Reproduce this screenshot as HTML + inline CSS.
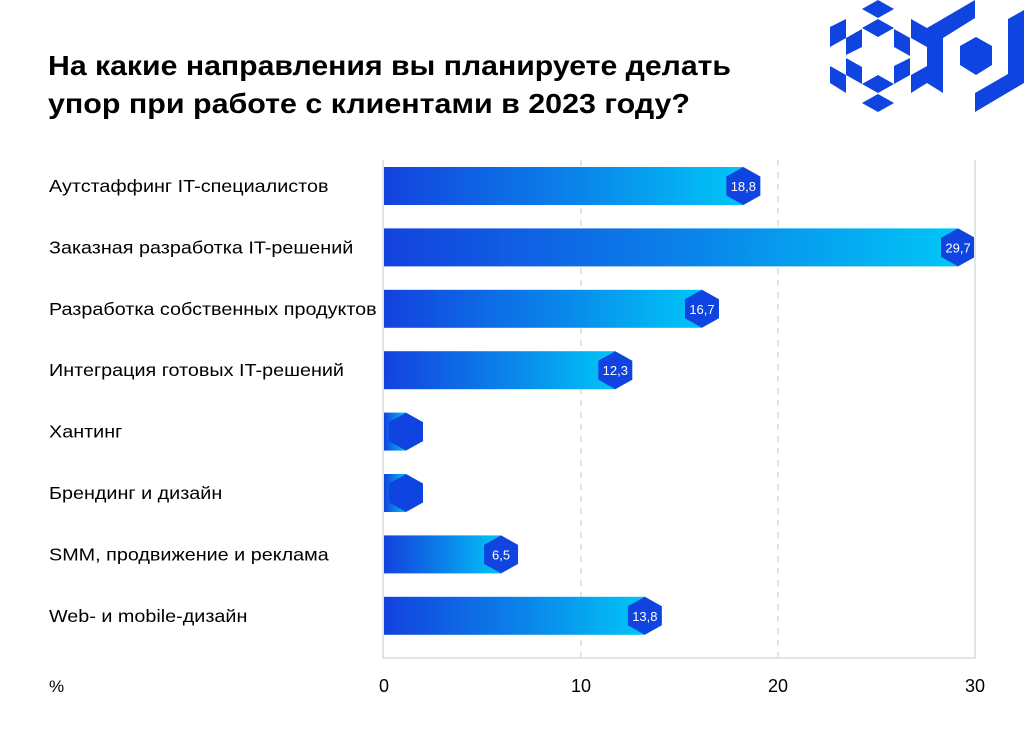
<!DOCTYPE html>
<html><head><meta charset="utf-8"><style>
html,body{margin:0;padding:0;background:#fff;}
svg{display:block;font-family:"Liberation Sans","Noto Sans CJK SC",sans-serif;}
</style></head><body>
<svg id="c" width="1024" height="736" viewBox="0 0 1024 736" xmlns="http://www.w3.org/2000/svg">
<defs>
<linearGradient id="g" x1="0" x2="1" y1="0" y2="0"><stop offset="0" stop-color="#1342de"/><stop offset="0.55" stop-color="#0a86ea"/><stop offset="1" stop-color="#00c6f7"/></linearGradient>
</defs>
<g font-weight="bold" font-size="28" fill="#000">
<text x="48" y="75" textLength="683" lengthAdjust="spacingAndGlyphs">На какие направления вы планируете делать</text>
<text x="48" y="113" textLength="642" lengthAdjust="spacingAndGlyphs">упор при работе с клиентами в 2023 году?</text>
</g>
<g fill="#0f44e0">
<polygon points="878,0 894,9 878,18 862,9"/>
<polygon points="878,19 894,28 878,37 862,28"/>
<polygon points="878,75 894,84 878,93 862,84"/>
<polygon points="878,94 894,103 878,112 862,103"/>
<polygon points="830,27 846,19 846,38 830,47"/>
<polygon points="830,66 846,75 846,93 830,83"/>
<polygon points="846,38 862,29 862,47 846,55"/>
<polygon points="846,58 862,67 862,84 846,75"/>
<polygon points="894,29 910,38 910,56 894,47"/>
<polygon points="894,66 910,58 910,75 894,84"/>
<polygon points="911,19 927,28 975,0 975,18 943,38 943,93 927,83 911,93 911,75 927,66 927,47 911,38"/>
<polygon points="976,37 992,46 992,65 976,75 960,65 960,46"/>
<polygon points="1008,19 1024,10 1024,83 975,112 975,93 1008,74"/>
</g>
<g id="grid"></g>
<g id="bars"></g>
<g id="axis"></g>
</svg>
<script>
const categories=["Аутстаффинг IT-специалистов","Заказная разработка IT-решений","Разработка собственных продуктов","Интеграция готовых IT-решений","Хантинг","Брендинг и дизайн","SMM, продвижение и реклама","Web- и mobile-дизайн"];
const values=[18.8,29.7,16.7,12.3,0,0,6.5,13.8];
const valueLabels=["18,8","29,7","16,7","12,3","","","6,5","13,8"];
const ticks=[0,10,20,30];
const NS="http://www.w3.org/2000/svg";
const x0=384,x1=975,xmax=30;
function xs(v){return x0+v/xmax*(x1-x0);}
function ys(i){return 186+i*61.4;}
function mk(t,a,p){const e=document.createElementNS(NS,t);for(const k in a)e.setAttribute(k,a[k]);p.appendChild(e);return e;}
const grid=document.getElementById('grid'),bars=document.getElementById('bars'),axis=document.getElementById('axis');
ticks.forEach(t=>{
  const x=xs(t);
  if(t>0&&t<xmax){const l=mk('line',{x1:x,x2:x,y1:160,y2:658,stroke:'#e4e4e4','stroke-width':2,'stroke-dasharray':'6 6'},grid);
  
  }
  const tx=mk('text',{x:x,y:692,'text-anchor':'middle','font-size':18,fill:'#000'},axis);tx.textContent=t;
  
  
});
const ax=mk('path',{d:`M${x0-1},160 V658 H${x1} V160`,fill:'none',stroke:'#e4e4e4','stroke-width':2},axis);


const pc=mk('text',{x:49,y:692,'font-size':17,fill:'#000'},axis);pc.textContent='%';


categories.forEach((c,i)=>{
  const y=ys(i);
  const lb=mk('text',{x:49,y:y+6,'font-size':17.5,fill:'#000'},bars);lb.textContent=c;
  
  
  const w=lb.getComputedTextLength();
  lb.setAttribute('textLength',w*1.13);
  lb.setAttribute('lengthAdjust','spacingAndGlyphs');
  const cx=Math.max(xs(values[i])-11,x0+22);
  const r=mk('rect',{x:x0,y:y-19,width:cx-x0,height:38,fill:'url(#g)'},bars);
  
  
  const hw=17,hh=19;
  const h=mk('polygon',{points:`${cx},${y-hh} ${cx+hw},${y-hh/2} ${cx+hw},${y+hh/2} ${cx},${y+hh} ${cx-hw},${y+hh/2} ${cx-hw},${y-hh/2}`,fill:'#0f44e0'},bars);
  
  
  if(valueLabels[i]){const t=mk('text',{x:cx,y:y+5,'text-anchor':'middle','font-size':13,fill:'#fff'},bars);t.textContent=valueLabels[i];
  
  }
});
</script>
</body></html>
